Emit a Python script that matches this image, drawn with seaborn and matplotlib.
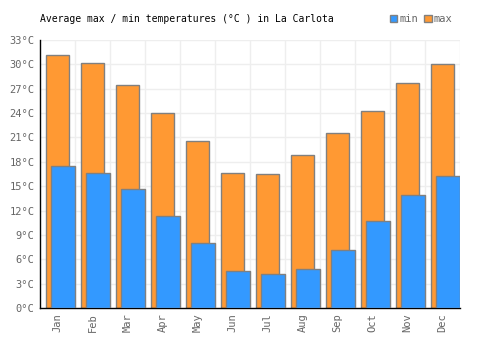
import numpy as np
import pandas as pd
import matplotlib
matplotlib.use("Agg")
import matplotlib.pyplot as plt
from matplotlib.patches import Patch
from matplotlib.ticker import MultipleLocator, FuncFormatter
import seaborn as sns

months = ["Jan", "Feb", "Mar", "Apr", "May", "Jun",
          "Jul", "Aug", "Sep", "Oct", "Nov", "Dec"]
temp_max = [31.2, 30.2, 27.4, 24.0, 20.5, 16.6, 16.5, 18.8, 21.5, 24.2, 27.7, 30.0]
temp_min = [17.45, 16.6, 14.65, 11.3, 8.0, 4.6, 4.15, 4.8, 7.1, 10.7, 13.9, 16.3]

df = pd.DataFrame({"month": months, "max": temp_max, "min": temp_min})

sns.set_style("white")
plt.rcParams["font.family"] = ["DejaVu Sans Mono"]

fig = plt.figure(figsize=(5, 3.5), dpi=100)
ax = fig.add_axes([0.08, 0.12, 0.84, 0.766])

# max bars first, min bars drawn on top, both shifted inside the category
sns.barplot(data=df, x="month", y="max", color="#ff9933", saturation=1,
            width=0.67, edgecolor="#808080", linewidth=1, ax=ax, zorder=2)
n_max = len(ax.patches)
sns.barplot(data=df, x="month", y="min", color="#3399ff", saturation=1,
            width=0.69, edgecolor="#808080", linewidth=1, ax=ax, zorder=3)
for i, p in enumerate(ax.patches):
    if i < n_max:
        p.set_x(p.get_x() - 0.005)
    else:
        p.set_x(p.get_x() + 0.15)

ax.set_xlim(-0.5, 11.5)
ax.set_ylim(0, 33)
ax.yaxis.set_major_locator(MultipleLocator(3))
ax.yaxis.set_major_formatter(FuncFormatter(lambda v, _: f"{int(v)}°C"))
ax.set_xlabel("")
ax.set_ylabel("")

# grid: horizontal every 3 deg, vertical at category boundaries
for y in np.arange(3, 34, 3):
    ax.axhline(y, color="#eeeeee", lw=1, zorder=0)
for x in np.arange(0.5, 12, 1):
    ax.axvline(x, color="#eeeeee", lw=1, zorder=0)

for s in ["top", "right"]:
    ax.spines[s].set_visible(False)
ax.spines["left"].set_color("black")
ax.spines["bottom"].set_color("black")
ax.spines["left"].set_linewidth(1)
ax.spines["bottom"].set_linewidth(1)

ax.tick_params(axis="both", length=0, labelsize=7.5, labelcolor="#666666", pad=4)

fig.text(0.08, 0.945, "Average max / min temperatures (°C ) in La Carlota",
         fontsize=7, color="black", va="center", ha="left")

handles = [Patch(facecolor="#3399ff", edgecolor="#808080", label="min"),
           Patch(facecolor="#ff9933", edgecolor="#808080", label="max")]
leg = fig.legend(handles=handles, loc="center right", bbox_to_anchor=(0.905, 0.945),
                 ncol=2, frameon=False, fontsize=7.5, handlelength=0.7,
                 handleheight=0.7, handletextpad=0.2, columnspacing=0.6,
                 borderpad=0, borderaxespad=0)
for t in leg.get_texts():
    t.set_color("#666666")

# rotate month labels after a draw so they stick
fig.canvas.draw()
for lbl in ax.get_xticklabels():
    lbl.set_rotation(90)
    lbl.set_rotation_mode("anchor")
    lbl.set_ha("right")
    lbl.set_va("center")

fig.savefig("out.png", dpi=100)
